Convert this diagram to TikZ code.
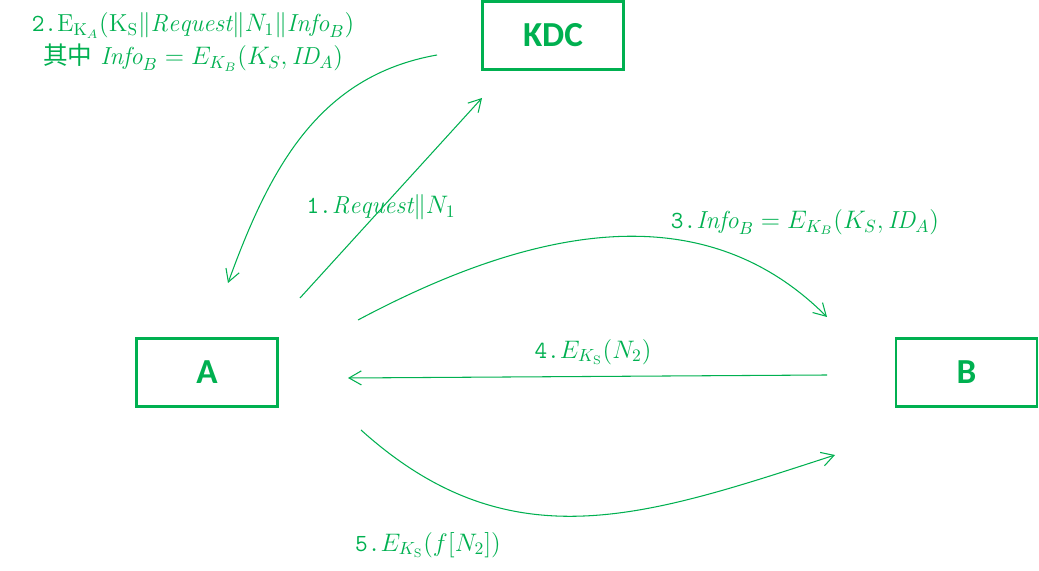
\documentclass[tikz,border=0pt]{standalone}
\usepackage{amsmath}
\usepackage{fontspec}
\usepackage{xcolor}
\usetikzlibrary{arrows.meta}
\setsansfont{Carlito}
\newfontfamily\cjkfont{Noto Sans CJK SC}
\definecolor{protogreen}{HTML}{00B050}
\newcommand{\stepnum}[1]{\texttt{#1.}}

\begin{document}
\begin{tikzpicture}[
  x=0.02cm,
  y=0.02cm,
  every node/.style={protogreen},
  party/.style={draw=protogreen, line width=1.2pt, minimum width=2.82cm,
    minimum height=1.36cm, font=\sffamily\bfseries\fontsize{20}{24}\selectfont},
  msg/.style={protogreen, line width=0.6pt,
    -{Straight Barb[length=7pt, width=8pt]}},
  lbl/.style={font=\fontsize{14}{19}\selectfont, inner sep=0pt}
]
  \useasboundingbox (0,0) rectangle (1039,571);

  % ================= the three parties ==================================
  \node[party] (kdc) at (553,535.5) {KDC};
  \node[party] (a) at (207,198.5) {A};
  \node[party] (b) at (966.5,198.5) {B};

  % ================= message ends =======================================
  % The arrows stop short of the boxes, so each end is its own coordinate.
  \coordinate (req-s) at (300,273);
  \coordinate (req-e) at (482,473);
  \coordinate (tkt-s) at (437,516);
  \coordinate (tkt-e) at (228,288);
  \coordinate (fwd-s) at (358,251);
  \coordinate (fwd-e) at (827,254);
  \coordinate (chl-s) at (827,196);
  \coordinate (chl-e) at (348,193);
  \coordinate (rsp-s) at (361,141);
  \coordinate (rsp-e) at (835,116);

  \draw[msg] (req-s) -- (req-e);
  \draw[msg] (tkt-s) to[out=190, in=70] (tkt-e);
  \draw[msg] (fwd-s) to[out=28, in=135] (fwd-e);
  \draw[msg] (chl-s) -- (chl-e);
  \draw[msg] (rsp-s) to[out=-42, in=198, looseness=1.08] (rsp-e);

  % ================= message labels =====================================
  \node[lbl] (m1) at (381,363.5) {\stepnum{1}$\mathit{Request}\|N_1$};
  \node[lbl, align=center] (m2) at (193,529)
    {\stepnum{2}$\mathrm{E}_{\mathrm{K}_A}(\mathrm{K}_\mathrm{S}\|\mathit{Request}\|N_1\|\mathit{Info}_B)$\\
     {\cjkfont 其中} $\mathit{Info}_B=E_{K_B}(K_S,\mathit{ID}_A)$};
  \node[lbl] (m3) at (805,349)
    {\stepnum{3}$\mathit{Info}_B=E_{K_B}(K_S,\mathit{ID}_A)$};
  \node[lbl] (m4) at (593,219) {\stepnum{4}$E_{K_\mathrm{S}}(N_2)$};
  \node[lbl] (m5) at (428,26) {\stepnum{5}$E_{K_\mathrm{S}}(f[N_2])$};
\end{tikzpicture}
\end{document}
